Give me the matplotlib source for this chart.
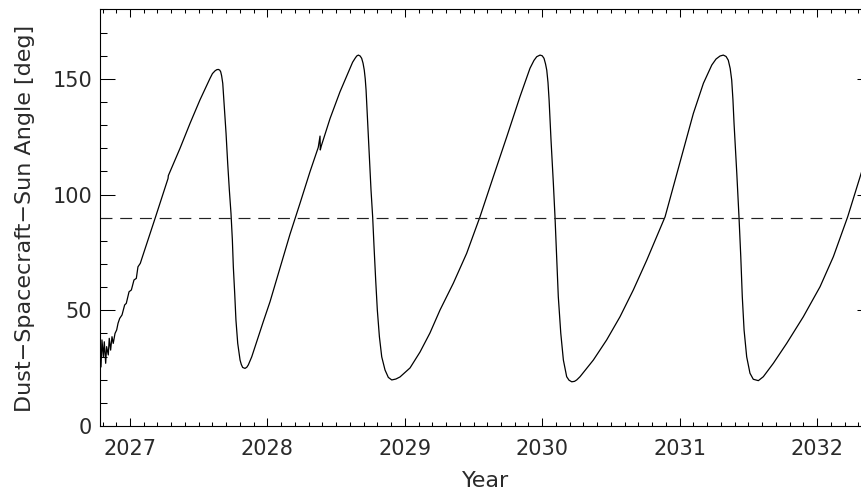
import matplotlib
matplotlib.use("Agg")
import matplotlib.pyplot as plt
from matplotlib.ticker import MultipleLocator, FixedLocator

# ---- data ----
year = [
    2026.789, 2026.796, 2026.806, 2026.813, 2026.823, 2026.830, 2026.842, 2026.849,
    2026.859, 2026.869, 2026.878, 2026.891, 2026.903, 2026.913, 2026.925, 2026.942,
    2026.961, 2026.973, 2026.993, 2027.010, 2027.029, 2027.046, 2027.058, 2027.075,
    2027.087, 2027.184, 2027.277, 2027.279, 2027.364, 2027.437, 2027.509, 2027.582,
    2027.600, 2027.619, 2027.632, 2027.643, 2027.653, 2027.660, 2027.667, 2027.675,
    2027.686, 2027.699, 2027.711, 2027.723, 2027.735, 2027.745, 2027.752, 2027.762,
    2027.771, 2027.784, 2027.801, 2027.810, 2027.820, 2027.837, 2027.850, 2027.861,
    2027.886, 2027.922, 2027.970, 2028.019, 2028.092, 2028.164,
    2028.237, 2028.310, 2028.370, 2028.383, 2028.385, 2028.392, 2028.456, 2028.528,
    2028.601, 2028.620, 2028.638, 2028.650, 2028.662, 2028.675, 2028.686, 2028.696,
    2028.705, 2028.712, 2028.718, 2028.730, 2028.742,
    2028.754, 2028.766, 2028.776, 2028.788, 2028.800, 2028.815, 2028.832, 2028.856,
    2028.880, 2028.905, 2028.935, 2028.965, 2029.038, 2029.111, 2029.183, 2029.256,
    2029.353, 2029.450, 2029.547, 2029.644, 2029.742, 2029.838, 2029.911, 2029.940,
    2029.960, 2029.984, 2030.000, 2030.013, 2030.024, 2030.033, 2030.042, 2030.050,
    2030.064, 2030.081, 2030.093, 2030.105, 2030.117,
    2030.135, 2030.154, 2030.178, 2030.195, 2030.215, 2030.235, 2030.251, 2030.275,
    2030.372, 2030.469, 2030.566, 2030.663, 2030.761, 2030.833, 2030.894, 2030.954,
    2031.027, 2031.100, 2031.173, 2031.234, 2031.265, 2031.294, 2031.318, 2031.338,
    2031.354, 2031.368, 2031.379, 2031.388, 2031.396, 2031.416,
    2031.432, 2031.445, 2031.456, 2031.469, 2031.488, 2031.512, 2031.536, 2031.573,
    2031.609, 2031.682, 2031.779, 2031.900, 2032.022, 2032.119, 2032.223, 2032.313,
    2032.400,
]
angle = [
    25.6, 37.2, 29.9, 36.4, 27.1, 34.3, 30.7, 37.9,
    32.8, 38.6, 35.7, 40.0, 41.5, 44.4, 46.5, 48.0,
    52.3, 53.0, 58.0, 58.8, 63.1, 63.8, 68.8, 70.3,
    72.5, 90.0, 107.0, 108.2, 120.0, 130.8, 140.9, 150.2,
    152.3, 153.5, 154.0, 154.1, 153.8, 153.1, 151.3, 148.1,
    138.0, 126.5, 113.5, 102.0, 91.9, 80.4, 68.8, 57.3,
    45.8, 35.7, 28.5, 26.6, 25.3, 24.9, 25.4, 26.4,
    29.9, 36.4, 45.1, 53.7, 68.3, 82.8,
    96.2, 109.9, 120.4, 125.3, 119.3, 121.0, 132.9, 144.4,
    154.6, 157.2, 158.9, 159.9, 160.3, 159.9, 158.9, 156.8,
    153.8, 150.0, 145.2, 130.8, 116.4,
    102.0, 90.4, 77.5, 63.1, 50.1, 38.6, 29.9, 24.2,
    21.0, 19.9, 20.3, 21.2, 25.1, 32.0, 40.2, 50.1,
    61.7, 74.6, 90.4, 107.7, 125.0, 142.3, 154.6, 158.0,
    159.6, 160.3, 160.0, 158.9, 156.5, 153.8, 148.5, 140.9,
    123.6, 104.9, 90.4, 73.2, 55.9,
    40.1, 28.5, 21.3, 19.8, 19.1, 19.3, 19.9, 21.3,
    28.5, 37.2, 47.2, 58.8, 71.7, 81.8, 90.4, 103.4,
    119.3, 135.1, 148.1, 156.0, 158.6, 159.9, 160.3, 159.7,
    158.1, 154.5, 149.5, 141.0, 130.8, 109.2,
    90.4, 73.2, 55.9, 41.5, 29.9, 22.8, 20.2, 19.6,
    21.3, 27.1, 35.7, 47.2, 60.2, 73.2, 90.4, 107.7,
    124.0,
]
ref_angle = 90
x_ticks = [2027, 2028, 2029, 2030, 2031, 2032]
x_ticklabels = ["2027", "2028", "2029", "2030", "2031", "2032"]
y_ticks = [0, 50, 100, 150]
y_ticklabels = ["0", "50", "100", "150"]
xlabel = "Year"
ylabel = "Dust\u2212Spacecraft\u2212Sun Angle [deg]"

plt.rcParams['font.family'] = ['DejaVu Sans']
W, H = 861, 490
fig = plt.figure(figsize=(W / 100, H / 100), dpi=100)
ax = fig.add_axes([100 / W, 64 / H, 772 / W, 416.5 / H])

ax.plot(year, angle, color='black', lw=0.9)
lw_d = 0.85
ax.axhline(ref_angle, color='#222222', lw=lw_d,
           linestyle=(0, (8.6 / lw_d, 5.6 / lw_d)))

ax.set_xlim(2026.7817, 2032.400)
ax.set_ylim(0, 180)

ax.xaxis.set_major_locator(FixedLocator(x_ticks))
ax.set_xticklabels(x_ticklabels)
ax.xaxis.set_minor_locator(MultipleLocator(0.1))
ax.yaxis.set_major_locator(FixedLocator(y_ticks))
ax.set_yticklabels(y_ticklabels)
ax.yaxis.set_minor_locator(MultipleLocator(10))

for s in ax.spines.values():
    s.set_linewidth(0.8)

ax.tick_params(axis='both', which='both', direction='in', top=True, right=True,
               width=0.75, colors='black', labelsize=15)
ax.tick_params(axis='x', which='major', length=5.8, pad=9)
ax.tick_params(axis='x', which='minor', length=2.9)
ax.tick_params(axis='y', which='major', length=10.8, pad=5.8)
ax.tick_params(axis='y', which='minor', length=5.0)
for lab in ax.get_xticklabels() + ax.get_yticklabels():
    lab.set_color('#2a2a2a')

fig.text(25 / W, 1 - 218 / H, ylabel, rotation=90, ha='center', va='center',
         fontsize=16, color='#2a2a2a')
fig.text(486 / W, 1 - 487 / H, xlabel, ha='center', va='baseline',
         fontsize=16, color='#2a2a2a')

fig.savefig("out.png", dpi=100)
